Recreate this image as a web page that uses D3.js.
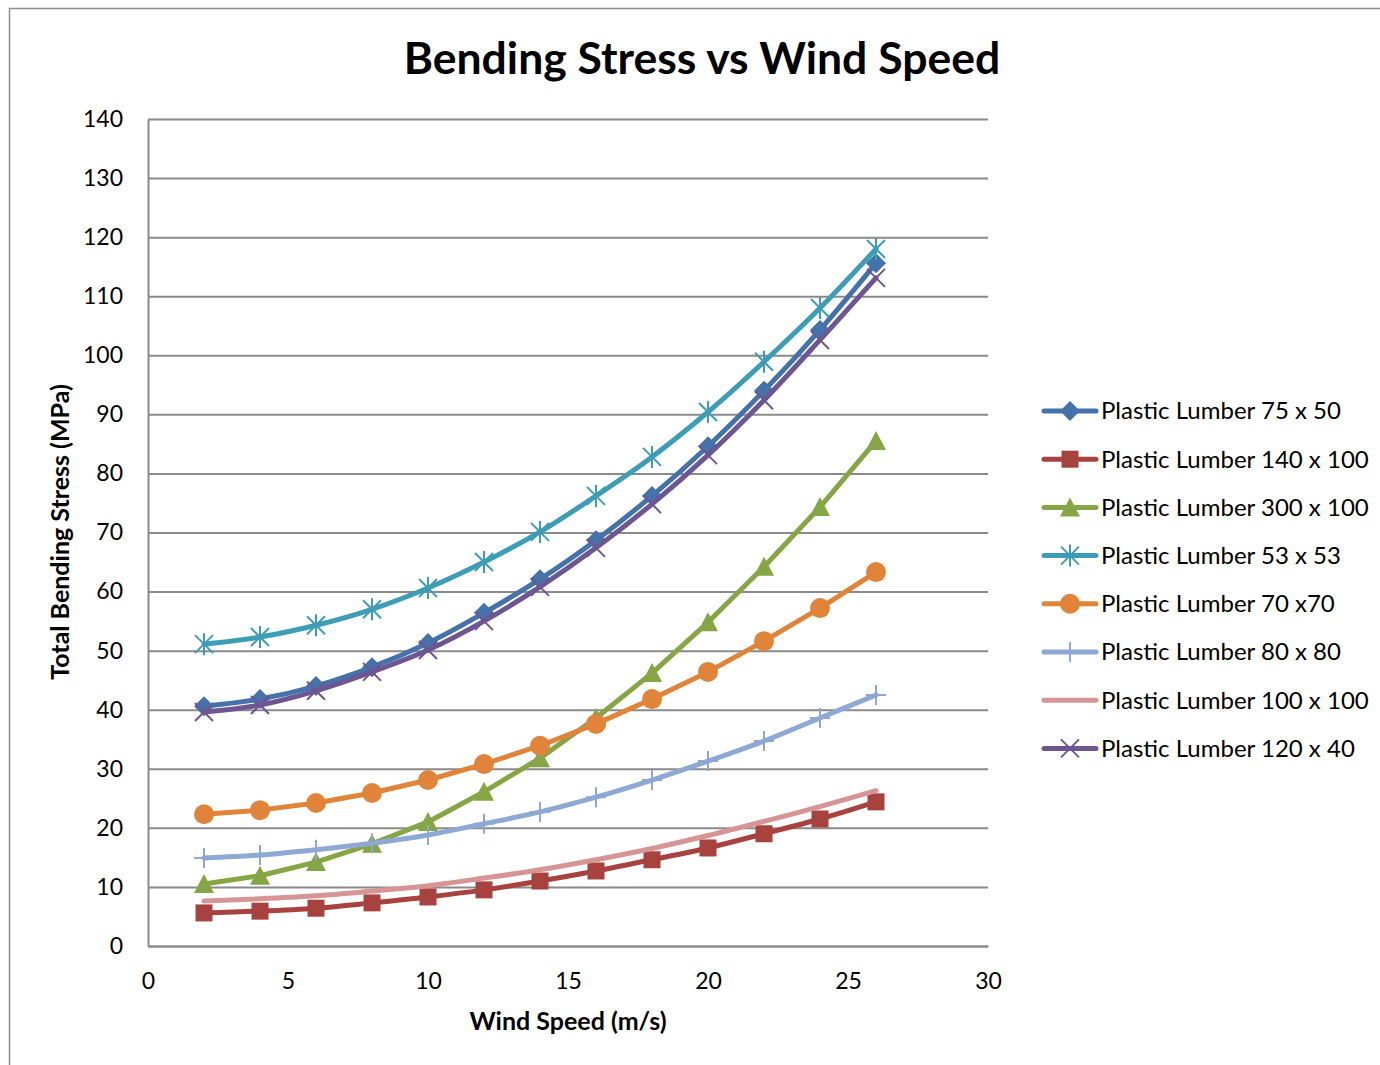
<!DOCTYPE html>
<html>
<head>
<meta charset="utf-8">
<script src="https://cdn.jsdelivr.net/npm/d3@7"></script>
<style>
  html, body { margin: 0; padding: 0; background: #fff; }
  svg { display: block; font-family: Lato, "Open Sans", sans-serif; }
</style>
</head>
<body>
<svg id="chart" width="1380" height="1065"></svg>
<script>
// Wind speed (m/s) sampled every 2 m/s
const windSpeed = [2, 4, 6, 8, 10, 12, 14, 16, 18, 20, 22, 24, 26];

// Total bending stress (MPa) for each plastic lumber section
const lumber75x50  = [40.6, 41.8, 44.0, 47.2, 51.3, 56.4, 62.1, 68.7, 76.2, 84.6, 94.0, 104.3, 115.6];
const lumber140x100 = [5.6, 5.9, 6.4, 7.3, 8.3, 9.5, 11.0, 12.7, 14.6, 16.6, 19.0, 21.5, 24.4];
const lumber300x100 = [10.5, 11.9, 14.2, 17.3, 21.0, 26.1, 31.8, 38.6, 46.2, 54.8, 64.2, 74.3, 85.5];
const lumber53x53  = [51.1, 52.3, 54.3, 57.0, 60.6, 65.0, 70.1, 76.2, 82.8, 90.4, 98.9, 108.0, 118.0];
const lumber70x70  = [22.3, 23.0, 24.2, 25.9, 28.1, 30.8, 33.9, 37.6, 41.8, 46.4, 51.6, 57.2, 63.3];
const lumber80x80  = [14.9, 15.4, 16.3, 17.4, 18.8, 20.7, 22.7, 25.2, 28.1, 31.3, 34.7, 38.6, 42.5];
const lumber100x100 = [7.6, 8.0, 8.5, 9.3, 10.2, 11.5, 12.9, 14.6, 16.5, 18.7, 21.1, 23.6, 26.3];
const lumber120x40 = [39.6, 40.8, 43.2, 46.4, 50.1, 55.0, 60.8, 67.4, 74.8, 83.1, 92.4, 102.6, 113.1];

const seriesNames = [
  "Plastic Lumber 75 x 50", "Plastic Lumber 140 x 100", "Plastic Lumber 300 x 100",
  "Plastic Lumber 53 x 53", "Plastic Lumber 70 x70", "Plastic Lumber 80 x 80",
  "Plastic Lumber 100 x 100", "Plastic Lumber 120 x 40"
];
const seriesValues = [lumber75x50, lumber140x100, lumber300x100, lumber53x53,
                      lumber70x70, lumber80x80, lumber100x100, lumber120x40];

const xTicks = [0, 5, 10, 15, 20, 25, 30];
const yTicks = [0, 10, 20, 30, 40, 50, 60, 70, 80, 90, 100, 110, 120, 130, 140];

// Presentation of each series: colour, marker shape, smoothed or straight
const styles = [
  { color: "#4472AA", marker: "diamond", smooth: true },
  { color: "#A8423F", marker: "square",  smooth: true },
  { color: "#86A545", marker: "triangle", smooth: false },
  { color: "#3D9DB6", marker: "star",    smooth: true },
  { color: "#E0843A", marker: "circle",  smooth: false },
  { color: "#8DA9D3", marker: "plus",    smooth: true },
  { color: "#D69594", marker: "none",    smooth: true },
  { color: "#6E5692", marker: "x",       smooth: true }
];

const svg = d3.select("#chart");

// Chart border
svg.append("rect")
  .attr("x", 9.5).attr("y", 8.5).attr("width", 1380).attr("height", 1070)
  .attr("fill", "#fff").attr("stroke", "#8c8c8c").attr("stroke-width", 1.5);

const plot = { left: 148, right: 988, top: 119, bottom: 946 };

const x = d3.scaleLinear().domain([0, 30]).range([plot.left, plot.right]);
const y = d3.scaleLinear().domain([0, 140]).range([plot.bottom, plot.top]);

// Horizontal gridlines
svg.append("g")
  .selectAll("line")
  .data(yTicks)
  .join("line")
  .attr("x1", plot.left).attr("x2", plot.right)
  .attr("y1", d => y(d) + 0.5).attr("y2", d => y(d) + 0.5)
  .attr("stroke", "#8a8a8a").attr("stroke-width", 2);

// Y axis
const yAxis = svg.append("g")
  .attr("transform", `translate(${plot.left},0)`)
  .call(d3.axisLeft(y).tickValues(yTicks).tickSize(0).tickPadding(25));
yAxis.select(".domain").attr("stroke", "#8a8a8a").attr("stroke-width", 2);
yAxis.selectAll("text").attr("font-size", 23).attr("fill", "#000")
  .attr("font-family", "Lato, sans-serif");

// X axis
const xAxis = svg.append("g")
  .attr("transform", `translate(0,${plot.bottom})`)
  .call(d3.axisBottom(x).tickValues(xTicks).tickSize(0).tickPadding(27));
xAxis.select(".domain").attr("stroke", "#8a8a8a").attr("stroke-width", 2);
xAxis.selectAll("text").attr("font-size", 23).attr("fill", "#000")
  .attr("font-family", "Lato, sans-serif");

// Title and axis titles
svg.append("text")
  .attr("x", 702).attr("y", 74)
  .attr("text-anchor", "middle")
  .attr("font-size", 44.5).attr("font-weight", "bold")
  .text("Bending Stress vs Wind Speed");

svg.append("text")
  .attr("x", 568).attr("y", 1030)
  .attr("text-anchor", "middle")
  .attr("font-size", 25).attr("font-weight", "bold")
  .text("Wind Speed (m/s)");

svg.append("text")
  .attr("transform", "translate(69,532) rotate(-90)")
  .attr("text-anchor", "middle")
  .attr("font-size", 25).attr("font-weight", "bold")
  .text("Total Bending Stress (MPa)");

// Marker drawing
function drawMarker(g, type, color) {
  switch (type) {
    case "diamond":
      g.append("path").attr("d", "M0,-10L10,0L0,10L-10,0Z").attr("fill", color);
      break;
    case "square":
      g.append("rect").attr("x", -8.5).attr("y", -8.5).attr("width", 17).attr("height", 17).attr("fill", color);
      break;
    case "triangle":
      g.append("path").attr("d", "M0,-10L10,9L-10,9Z").attr("fill", color);
      break;
    case "circle":
      g.append("circle").attr("r", 10).attr("fill", color);
      break;
    case "star":
      g.append("path").attr("d", "M-9,-9L9,9M-9,9L9,-9M0,-11L0,11")
        .attr("stroke", color).attr("stroke-width", 2).attr("fill", "none");
      break;
    case "x":
      g.append("path").attr("d", "M-9,-9L9,9M-9,9L9,-9")
        .attr("stroke", color).attr("stroke-width", 2).attr("fill", "none");
      break;
    case "plus":
      g.append("path").attr("d", "M0,-10L0,10M-10,0L10,0")
        .attr("stroke", color).attr("stroke-width", 2).attr("fill", "none");
      break;
  }
}

const smoothLine = d3.line().x(d => x(d[0])).y(d => y(d[1])).curve(d3.curveCatmullRom.alpha(0.5));
const straightLine = d3.line().x(d => x(d[0])).y(d => y(d[1]));

// Series lines and markers
seriesValues.forEach((vals, i) => {
  const st = styles[i];
  const pts = windSpeed.map((w, j) => [w, vals[j]]);
  const g = svg.append("g").attr("class", "series");
  g.append("path")
    .attr("d", (st.smooth ? smoothLine : straightLine)(pts))
    .attr("fill", "none").attr("stroke", st.color)
    .attr("stroke-width", 5).attr("stroke-linejoin", "round").attr("stroke-linecap", "round");
  pts.forEach(p => {
    const m = g.append("g").attr("transform", `translate(${x(p[0])},${y(p[1])})`);
    drawMarker(m, st.marker, st.color);
  });
});

// Legend
const legend = svg.append("g");
seriesNames.forEach((name, i) => {
  const st = styles[i];
  const ly = 411 + i * 48.2;
  const row = legend.append("g").attr("transform", `translate(0,${ly})`);
  row.append("line").attr("x1", 1044).attr("x2", 1096).attr("y1", 0).attr("y2", 0)
    .attr("stroke", st.color).attr("stroke-width", 5).attr("stroke-linecap", "round");
  const m = row.append("g").attr("transform", "translate(1070,0)");
  drawMarker(m, st.marker, st.color);
  row.append("text").attr("x", 1101).attr("y", 0).attr("dy", "0.35em")
    .attr("font-size", 24).attr("fill", "#000").text(name);
});
</script>
</body>
</html>
